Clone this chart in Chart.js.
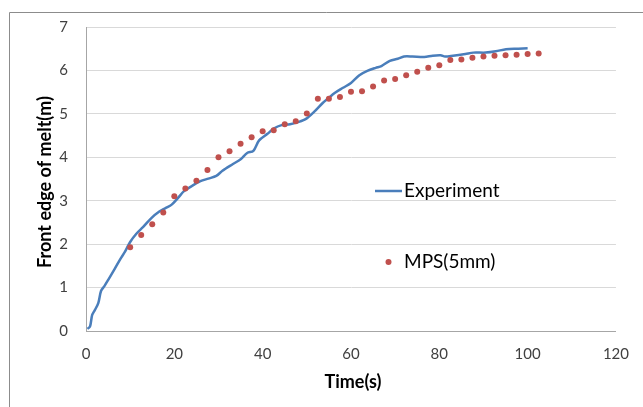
<!DOCTYPE html>
<html><head><meta charset="utf-8">
<script src="https://cdn.jsdelivr.net/npm/chart.js@4"></script>
<style>html,body{margin:0;padding:0;background:#fff;}#wrap{width:643px;height:407px;position:relative;}</style>
</head><body><div id="wrap"><canvas id="c" width="643" height="407"></canvas></div>
<script>
const expTime = [0.3,0.9,1.4,2.0,2.8,3.4,4.2,5.1,6.5,7.8,8.8,10.0,11.4,12.9,14.8,16.6,18.0,19.4,20.8,22.2,24.0,25.9,27.7,29.5,30.9,33.2,35.1,36.5,37.9,39.2,41.1,42.5,44.3,46.2,48.0,49.9,51.7,53.6,54.9,56.3,58.2,60.0,61.9,63.7,65.6,66.9,68.8,70.6,72.0,73.9,76.6,78.5,80.3,81.3,83.1,85.9,87.7,90.5,92.8,95.1,97.9,100.0];
const expFront = [0.05,0.10,0.37,0.48,0.65,0.92,1.04,1.19,1.43,1.66,1.82,2.05,2.24,2.39,2.60,2.75,2.83,2.91,3.06,3.22,3.34,3.45,3.51,3.57,3.69,3.84,3.96,4.10,4.15,4.39,4.54,4.66,4.74,4.76,4.81,4.89,5.05,5.25,5.36,5.48,5.60,5.71,5.89,5.99,6.06,6.10,6.22,6.27,6.32,6.32,6.31,6.34,6.35,6.32,6.34,6.38,6.41,6.41,6.44,6.49,6.50,6.51];
const mpsTime = [10,12.5,15,17.5,20,22.5,25,27.5,30,32.5,35,37.5,40,42.5,45,47.5,50,52.5,55,57.5,60,62.5,65,67.5,70,72.5,75,77.5,80,82.5,85,87.5,90,92.5,95,97.5,100,102.5];
const mpsFront = [1.93,2.21,2.46,2.73,3.10,3.28,3.46,3.71,4.00,4.14,4.31,4.46,4.60,4.62,4.76,4.83,5.01,5.35,5.35,5.39,5.51,5.52,5.63,5.77,5.80,5.89,5.97,6.06,6.12,6.24,6.25,6.29,6.32,6.34,6.35,6.36,6.38,6.39];
const xTicks = [0,20,40,60,80,100,120];
const yTicks = [0,1,2,3,4,5,6,7];
const seriesNames = ["Experiment","MPS(5mm)"];
const xTitle = "Time(s)";
const yTitle = "Front edge of melt(m)";

const FONT = "Lato, 'Open Sans', sans-serif";
const BLUE = "#4A7EBB", RED = "#C0504D";

const extras = {
  id: 'extras',
  beforeDraw(chart) {
    const ctx = chart.ctx;
    ctx.save();
    ctx.fillStyle = '#fff';
    ctx.fillRect(0,0,chart.width,chart.height);
    ctx.strokeStyle = '#8c8c8c';
    ctx.lineWidth = 1;
    ctx.beginPath();
    ctx.moveTo(9.5, chart.height + 2);
    ctx.lineTo(9.5, 12.5);
    ctx.lineTo(chart.width + 2, 12.5);
    ctx.stroke();
    ctx.restore();
  },
  afterDraw(chart) {
    const ctx = chart.ctx;
    const a = chart.chartArea;
    ctx.save();
    ctx.fillStyle = '#000';
    ctx.font = "bold 18px " + FONT;
    ctx.textAlign = 'center';
    ctx.textBaseline = 'middle';
    ctx.fillText(xTitle, 353, 382);
    ctx.save();
    ctx.translate(45, 182);
    ctx.rotate(-Math.PI / 2);
    ctx.fillText(yTitle, 0, 0);
    ctx.restore();
    // legend
    ctx.font = "19px " + FONT;
    ctx.textAlign = 'left';
    ctx.fillStyle = '#000';
    ctx.strokeStyle = BLUE;
    ctx.lineWidth = 2.5;
    ctx.beginPath();
    ctx.moveTo(375, 191);
    ctx.lineTo(402, 191);
    ctx.stroke();
    ctx.fillText(seriesNames[0], 404, 191);
    ctx.fillStyle = RED;
    ctx.beginPath();
    ctx.arc(388.5, 262, 3, 0, Math.PI * 2);
    ctx.fill();
    ctx.fillStyle = '#000';
    ctx.fillText(seriesNames[1], 404, 262);
    ctx.restore();
  }
};

new Chart(document.getElementById('c'), {
  type: 'scatter',
  data: {
    datasets: [
      {
        label: seriesNames[0],
        data: expTime.map((t, i) => ({x: t, y: expFront[i]})),
        showLine: true,
        borderColor: BLUE,
        borderWidth: 2.5,
        pointRadius: 0,
        tension: 0.3,
        order: 2
      },
      {
        label: seriesNames[1],
        data: mpsTime.map((t, i) => ({x: t, y: mpsFront[i]})),
        showLine: false,
        backgroundColor: RED,
        borderColor: RED,
        borderWidth: 0,
        pointRadius: 3,
        order: 1
      }
    ]
  },
  options: {
    responsive: false,
    animation: false,
    layout: { padding: { top: 24, right: 24, left: 0, bottom: 0 } },
    plugins: { legend: { display: false }, tooltip: { enabled: false } },
    scales: {
      x: {
        type: 'linear', min: 0, max: 120,
        afterBuildTicks(s) { s.ticks = xTicks.map(v => ({value: v})); },
        afterFit(s) { s.height = 76; },
        grid: { display: false, drawTicks: false },
        border: { display: true, color: '#a6a6a6', width: 1 },
        ticks: { color: '#404040', font: { family: FONT, size: 15 }, padding: 14, maxRotation: 0 }
      },
      y: {
        type: 'linear', min: 0, max: 7,
        afterBuildTicks(s) { s.ticks = yTicks.map(v => ({value: v})); },
        afterFit(s) { s.width = 86; },
        grid: { color: '#d9d9d9', lineWidth: 1, drawTicks: false },
        border: { display: true, color: '#a6a6a6', width: 1 },
        ticks: { color: '#404040', font: { family: FONT, size: 15 }, padding: 18 }
      }
    }
  },
  plugins: [extras]
});
</script>
</body></html>
